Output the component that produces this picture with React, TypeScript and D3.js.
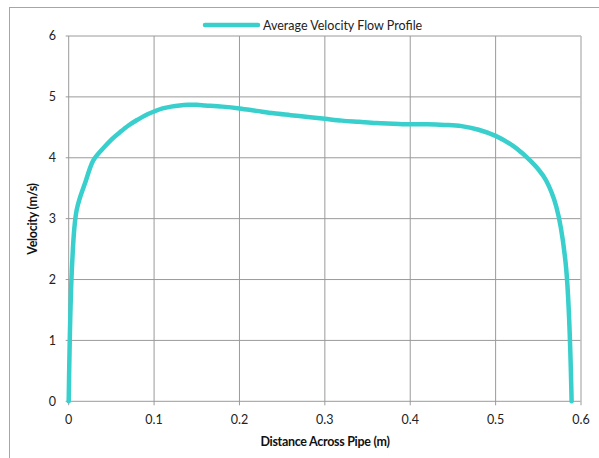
import React from "react";
import * as d3 from "d3";

const xTicks = [0, 0.1, 0.2, 0.3, 0.4, 0.5, 0.6];
const yTicks = [0, 1, 2, 3, 4, 5, 6];
const distance = [0, 0.004, 0.0093, 0.02, 0.029, 0.04, 0.05, 0.06, 0.07, 0.08, 0.09, 0.1, 0.11, 0.12, 0.13, 0.14, 0.15, 0.16, 0.18, 0.2, 0.22, 0.24, 0.26, 0.28, 0.3, 0.32, 0.34, 0.36, 0.38, 0.4, 0.42, 0.44, 0.46, 0.48, 0.5, 0.52, 0.53, 0.54, 0.55, 0.559, 0.571, 0.582, 0.589];
const velocity = [0, 2.25, 3.14, 3.62, 3.96, 4.15, 4.3, 4.42, 4.53, 4.62, 4.7, 4.76, 4.81, 4.84, 4.86, 4.87, 4.87, 4.86, 4.84, 4.81, 4.77, 4.73, 4.7, 4.67, 4.64, 4.61, 4.59, 4.57, 4.56, 4.55, 4.55, 4.54, 4.52, 4.46, 4.36, 4.2, 4.09, 3.96, 3.81, 3.63, 3.2, 2.27, 0];
const seriesName = "Average Velocity Flow Profile";
const xTitle = "Distance Across Pipe (m)";
const yTitle = "Velocity (m/s)";

export default function App() {
  const left = 68.7, right = 581, top = 36, bottom = 401.3;
  const x = d3.scaleLinear().domain([0, 0.6]).range([left, right]);
  const y = d3.scaleLinear().domain([0, 6]).range([bottom, top]);
  const pts: [number, number][] = distance.map((d, i) => [d, velocity[i]]);
  const line = d3
    .line<[number, number]>()
    .x((d) => x(d[0]))
    .y((d) => y(d[1]))
    .curve(d3.curveCatmullRom.alpha(0.5));
  const font = "Lato, 'Open Sans', sans-serif";
  const color = "#38CFCC";
  return (
    <svg width={599} height={458} style={{ position: "absolute", left: 0, top: 0 }} fontFamily={font}>
      <rect x={0} y={0} width={599} height={458} fill="#fff" />
      <rect x={9.5} y={7.5} width={600} height={470} fill="none" stroke="#a6a6a6" strokeWidth={1} />
      {yTicks.map((t) => (
        <line key={"gy" + t} x1={left - 3} x2={right} y1={y(t)} y2={y(t)} stroke="#9a9a9a" strokeWidth={1} />
      ))}
      {xTicks.map((t) => (
        <line key={"gx" + t} x1={x(t)} x2={x(t)} y1={top} y2={bottom + 4} stroke={t === 0.6 ? "#bdbdbd" : "#9a9a9a"} strokeWidth={t === 0.6 ? 1.5 : 1} />
      ))}
      {yTicks.map((t) => (
        <text key={"ly" + t} x={56} y={y(t)} dy="0.35em" textAnchor="end" fontSize={12.5} fill="#222">
          {t}
        </text>
      ))}
      {xTicks.map((t) => (
        <text key={"lx" + t} x={x(t)} y={424} textAnchor="middle" fontSize={12.5} fill="#222">
          {t}
        </text>
      ))}
      <path d={line(pts) || ""} fill="none" stroke={color} strokeWidth={4.5} strokeLinejoin="round" strokeLinecap="round" />
      <line x1={205} x2={258} y1={25} y2={25} stroke={color} strokeWidth={4.5} strokeLinecap="round" />
      <text x={263} y={29.5} fontSize={12.5} fill="#222">{seriesName}</text>
      <text x={325} y={445.5} textAnchor="middle" fontSize={12.5} fontWeight="bold" fill="#111" letterSpacing={-0.3}>
        {xTitle}
      </text>
      <text transform="translate(37,219) rotate(-90)" textAnchor="middle" fontSize={12.5} fontWeight="bold" fill="#111" letterSpacing={-0.3}>
        {yTitle}
      </text>
    </svg>
  );
}
